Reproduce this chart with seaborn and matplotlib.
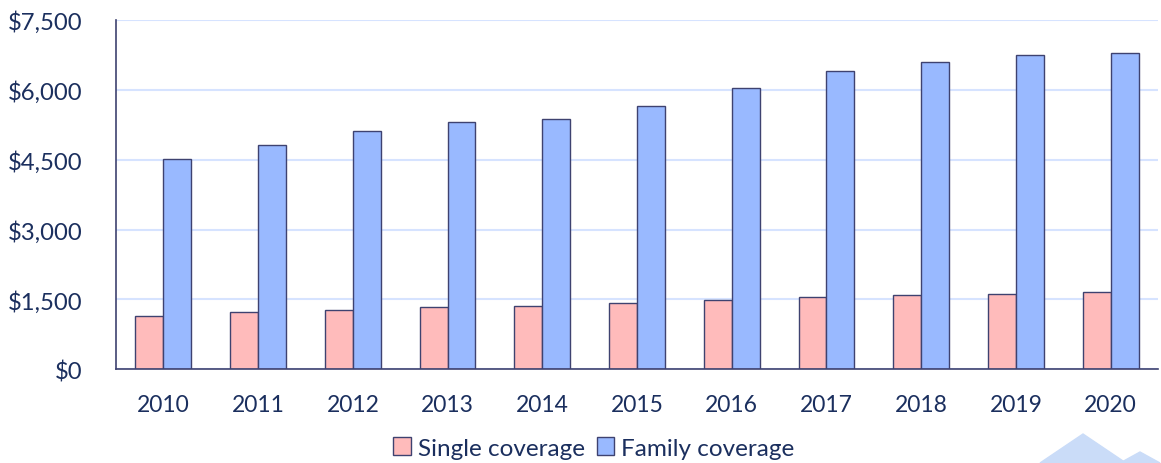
import matplotlib
matplotlib.use("Agg")
import matplotlib.pyplot as plt
import seaborn as sns
import pandas as pd
from matplotlib.patches import Polygon

years = ["2010", "2011", "2012", "2013", "2014", "2015", "2016", "2017", "2018", "2019", "2020"]
single = [1150, 1221, 1271, 1329, 1350, 1421, 1479, 1556, 1586, 1614, 1650]
family = [4522, 4821, 5122, 5306, 5379, 5657, 6035, 6399, 6592, 6757, 6793]
series_names = ["Single coverage", "Family coverage"]
yticks = [0, 1500, 3000, 4500, 6000, 7500]
ytick_labels = ["$0", "$1,500", "$3,000", "$4,500", "$6,000", "$7,500"]

df = pd.DataFrame({
    "Year": years * 2,
    "Value": single + family,
    "Coverage": [series_names[0]] * len(years) + [series_names[1]] * len(years),
})

sns.set_theme(style="white")
plt.rcParams["font.family"] = ["Lato", "DejaVu Sans"]

navy = "#1B2F5E"
edge = "#3E4270"

fig = plt.figure(figsize=(11.61, 4.64), dpi=100)
ax = fig.add_axes([116 / 1161, 1 - 370.3 / 464, (1158 - 116) / 1161, (370.3 - 21) / 464])

sns.barplot(data=df, x="Year", y="Value", hue="Coverage", order=years,
            hue_order=series_names, palette=["#FFBBBB", "#99B9FF"],
            width=0.59, gap=0, dodge=True, edgecolor=edge, linewidth=1.0,
            saturation=1, ax=ax, legend=True)

ax.set_ylim(0, 7500)
ax.set_yticks(yticks)
ax.set_yticklabels(ytick_labels)
ax.set_xlabel("")
ax.set_ylabel("")
ax.yaxis.grid(True, color="#D6E3FF", linewidth=1.5)
ax.set_axisbelow(True)
for s in ["top", "right"]:
    ax.spines[s].set_visible(False)
for s in ["left", "bottom"]:
    ax.spines[s].set_color(edge)
    ax.spines[s].set_linewidth(1.2)
ax.tick_params(axis="y", labelsize=17.2, colors=navy, length=0, pad=24)
ax.tick_params(axis="x", labelsize=16.5, colors=navy, length=0, pad=18)

handles, labels = ax.get_legend_handles_labels()
ax.legend_.remove()
fig.legend(handles, labels, loc="center", bbox_to_anchor=(594 / 1161, 1 - 449 / 464), ncol=2,
           frameon=False, fontsize=17.5, labelcolor=navy, handlelength=0.7,
           handleheight=0.7, handletextpad=0.3, columnspacing=0.5)

# decorative watermark shapes in bottom-right corner
fig.patches.append(Polygon([[1040 / 1161, 0], [1083 / 1161, 1 - 435 / 464], [1126 / 1161, 0]],
                           closed=True, transform=fig.transFigure, color="#CADCF8", zorder=0))
fig.patches.append(Polygon([[1120 / 1161, 0], [1140 / 1161, 1 - 453 / 464], [1160 / 1161, 0]],
                           closed=True, transform=fig.transFigure, color="#CADCF8", zorder=0))

fig.savefig("out.png", dpi=100)
